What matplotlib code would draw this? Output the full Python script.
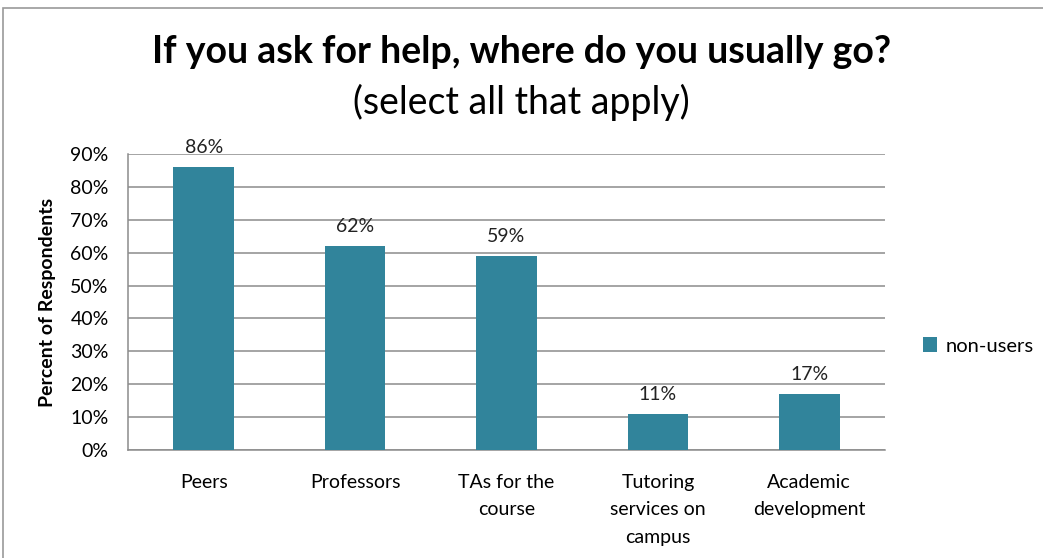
import matplotlib.pyplot as plt
from matplotlib.patches import Rectangle

categories = ['Peers', 'Professors', 'TAs for the\ncourse', 'Tutoring\nservices on\ncampus', 'Academic\ndevelopment']
values = [86, 62, 59, 11, 17]
yticks = [0, 10, 20, 30, 40, 50, 60, 70, 80, 90]

BAR = '#31849B'
GRID = '#8c8c8c'

plt.rcParams['font.family'] = ['Lato', 'DejaVu Sans']

fig = plt.figure(figsize=(10.43, 5.58), dpi=100)
fig.patches.append(Rectangle((3 / 1043, -0.1), 1.2, 1 - 8 / 558 + 0.1, transform=fig.transFigure,
                             fill=False, edgecolor='#9a9a9a', linewidth=1.2))

ax = fig.add_axes([128 / 1043, 1 - 450 / 558, 757 / 1043, 296 / 558])
x = range(len(categories))
ax.bar(x, values, width=0.4, color=BAR, label='non-users', zorder=3)
for i, v in zip(x, values):
    ax.annotate(f'{v}%', (i, v), xytext=(0, 8), textcoords='offset points',
                ha='center', va='bottom', fontsize=14, color='#222222')

ax.set_xlim(-0.5, len(categories) - 0.5)
ax.set_ylim(0, 90)
ax.set_yticks(yticks)
ax.set_yticklabels([f'{t}%' for t in yticks], fontsize=14)
ax.set_xticks(list(x))
ax.set_xticklabels(categories, fontsize=14, linespacing=1.75, va='top')
ax.tick_params(axis='x', length=0, pad=17)
ax.tick_params(axis='y', length=0, pad=14)
ax.yaxis.grid(True, color=GRID, linewidth=1.1, zorder=0)
for s in ['top', 'right']:
    ax.spines[s].set_visible(False)
for s in ['left', 'bottom']:
    ax.spines[s].set_color(GRID)
    ax.spines[s].set_linewidth(1.1)

ax.set_ylabel('Percent of Respondents', fontsize=14, fontweight='bold', labelpad=10)

fig.text(0.5, 1 - 52 / 558, 'If you ask for help, where do you usually go?',
         ha='center', va='center', fontsize=27, fontweight='bold')
fig.text(0.5, 1 - 102 / 558, '(select all that apply)',
         ha='center', va='center', fontsize=27)

fig.legend(loc='center left', bbox_to_anchor=(905 / 1043, 1 - 346 / 558), frameon=False,
           fontsize=14.5, handlelength=0.7, handleheight=0.7, handletextpad=0.4)

fig.savefig('out.png', dpi=100)
